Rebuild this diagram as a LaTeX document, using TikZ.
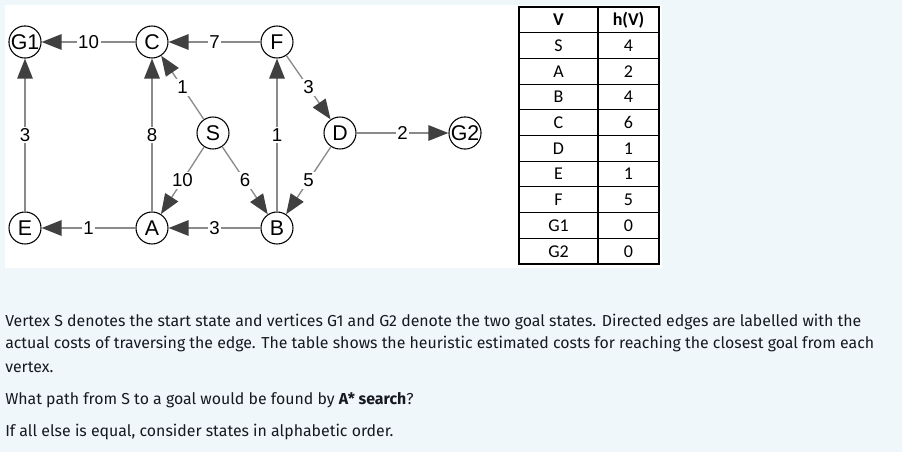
\documentclass[tikz,border=0pt]{standalone}
\usepackage{fontspec}
\usetikzlibrary{arrows.meta}
\newfontfamily\graphfont{Liberation Sans}
\newfontfamily\tabfont{Carlito}
\newfontfamily\parafont{Fira Sans}
\definecolor{pagebg}{HTML}{EFF7FA}
\definecolor{edgegray}{HTML}{8A8A8A}
\definecolor{tipgray}{HTML}{404040}
\definecolor{paratext}{HTML}{16191F}
\tikzset{
  vert/.style={circle,draw=black,line width=0.8pt,fill=white,minimum size=24pt,inner sep=0pt,
    font=\graphfont\fontsize{16}{16}\selectfont},
  edgeline/.style={draw=edgegray,line width=1.4pt,
    -{Triangle[length=15pt,width=11.5pt,color=tipgray]}},
  diagline/.style={edgeline,line width=1pt},
  elabel/.style={midway,fill=white,inner sep=1.2pt,text=black,
    font=\graphfont\fontsize{14}{14}\selectfont},
  cell/.style={font=\tabfont\fontsize{13.5}{13.5}\selectfont,text=black,inner sep=0pt},
  headcell/.style={cell,font=\tabfont\bfseries\fontsize{13.5}{13.5}\selectfont},
  para/.style={anchor=base west,inner sep=0pt,text=paratext,
    font=\parafont\fontsize{11.9}{13}\selectfont}
}
\begin{document}
\begin{tikzpicture}[x=0.75pt,y=-0.75pt]
\useasboundingbox (0,0) rectangle (902,452);
\fill[pagebg] (0,0) rectangle (902,452);
\fill[white] (5,5) rectangle (662,268);
% vertices
\node[vert] (G1) at (25,42) {G1};
\node[vert] (C) at (152,42) {C};
\node[vert] (F) at (277,42) {F};
\node[vert] (S) at (213,133) {S};
\node[vert] (D) at (340,133) {D};
\node[vert] (G2) at (465,133) {G2};
\node[vert] (E) at (25,228) {E};
\node[vert] (A) at (152,228) {A};
\node[vert] (B) at (277,228) {B};
% edges
\draw[edgeline] (C) -- node[elabel]{10} (G1);
\draw[edgeline] (F) -- node[elabel]{7} (C);
\draw[diagline] (S) -- node[elabel]{1} (C);
\draw[edgeline] (E) -- node[elabel]{3} (G1);
\draw[edgeline] (A) -- node[elabel]{8} (C);
\draw[edgeline] (B) -- node[elabel]{1} (F);
\draw[diagline] (F) -- node[elabel]{3} (D);
\draw[edgeline] (D) -- node[elabel]{2} (G2);
\draw[diagline] (S) -- node[elabel]{10} (A);
\draw[diagline] (S) -- node[elabel]{6} (B);
\draw[diagline] (D) -- node[elabel]{5} (B);
\draw[edgeline] (A) -- node[elabel]{1} (E);
\draw[edgeline] (B) -- node[elabel]{3} (A);
% table
\draw[black,line width=0.8pt] (519,7) rectangle (659,264);
\draw[black,line width=0.8pt] (598,7) -- (598,264);
\foreach \i in {1,...,9} {
  \draw[black,line width=0.8pt] (519,{7+25.7*\i}) -- (659,{7+25.7*\i});
}
\node[headcell] (hV) at (558.5,20) {V};
\node[headcell] (hH) at (628.5,20) {h(V)};
\foreach \v/\h [count=\i] in {S/4,A/2,B/4,C/6,D/1,E/1,F/5,G1/0,G2/0} {
  \node[cell] (v\i) at (558.5,{20+25.7*\i}) {\v};
  \node[cell] (h\i) at (628.5,{20+25.7*\i}) {\h};
}
% paragraph
\node[para] (p1) at (5,326) {Vertex S denotes the start state and vertices G1 and G2 denote the two goal states. Directed edges are labelled with the};
\node[para] (p2) at (5,348) {actual costs of traversing the edge. The table shows the heuristic estimated costs for reaching the closest goal from each};
\node[para] (p3) at (5,372) {vertex.};
\node[para] (p4) at (5,404) {What path from S to a goal would be found by \textbf{A* search}?};
\node[para] (p5) at (5,436) {If all else is equal, consider states in alphabetic order.};
\end{tikzpicture}
\end{document}
